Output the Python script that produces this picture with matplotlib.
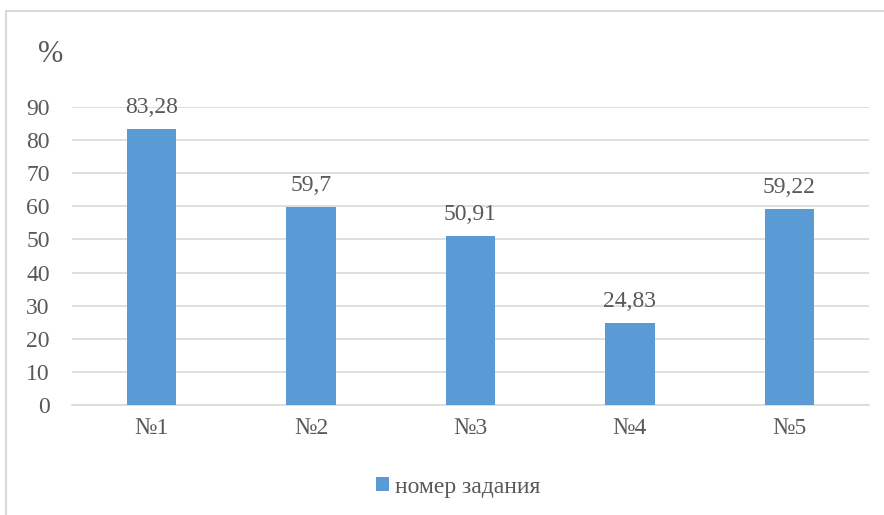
import matplotlib
matplotlib.use('Agg')
import matplotlib.pyplot as plt
from matplotlib.patches import Rectangle

# Результаты по заданиям, %
tasks = ['№1', '№2', '№3', '№4', '№5']
scores = [83.28, 59.7, 50.91, 24.83, 59.22]
score_labels = ['83,28', '59,7', '50,91', '24,83', '59,22']
y_ticks = [0, 10, 20, 30, 40, 50, 60, 70, 80, 90]

BAR_COLOR = '#5B9BD5'
TEXT_GRAY = '#595959'
GRID_GRAY = '#D9D9D9'

plt.rcParams['font.family'] = ['Liberation Serif', 'DejaVu Serif']

W, H = 884, 515
FS = 17
fig = plt.figure(figsize=(W / 100, H / 100), dpi=100)

# рамка области диаграммы (уходит за правый и нижний край)
fig.patches.append(Rectangle((6 / W, -0.1), 2.0, 1 - 11 / H + 0.1,
                             transform=fig.transFigure, fill=False,
                             edgecolor=GRID_GRAY, lw=1.5))

ax = fig.add_axes([72 / W, 1 - 405 / H, (869 - 72) / W, (405 - 107) / H])
x = range(len(tasks))
bars = ax.bar(x, scores, width=0.31, color=BAR_COLOR, zorder=3,
              label='номер задания')

for xi, v, lab in zip(x, scores, score_labels):
    ax.annotate(lab, (xi, v), xytext=(0, 8), textcoords='offset points',
                ha='center', va='bottom', fontsize=FS, color=TEXT_GRAY,
                annotation_clip=False)

ax.set_xlim(-0.5, len(tasks) - 0.5)
ax.set_ylim(0, 90)
ax.set_yticks(y_ticks)
ax.set_xticks(list(x))
ax.set_xticklabels(tasks)
ax.yaxis.grid(True, color=GRID_GRAY, lw=1.2, zorder=0)
ax.set_axisbelow(True)
for s in ['top', 'right', 'left']:
    ax.spines[s].set_visible(False)
ax.spines['bottom'].set_color(GRID_GRAY)
ax.spines['bottom'].set_linewidth(1.2)
ax.tick_params(axis='both', length=0, labelsize=FS, colors=TEXT_GRAY)
ax.tick_params(axis='y', pad=16)
ax.tick_params(axis='x', pad=9)

fig.text(38 / W, 1 - 55 / H, '%', fontsize=22, color=TEXT_GRAY,
         ha='left', va='center')

fig.legend(handles=[bars], labels=['номер задания'], loc='center',
           bbox_to_anchor=(458 / W, 1 - 487 / H), frameon=False,
           fontsize=FS, labelcolor=TEXT_GRAY, handlelength=0.55,
           handleheight=0.55, handletextpad=0.25)

fig.savefig('out.png', dpi=100)
